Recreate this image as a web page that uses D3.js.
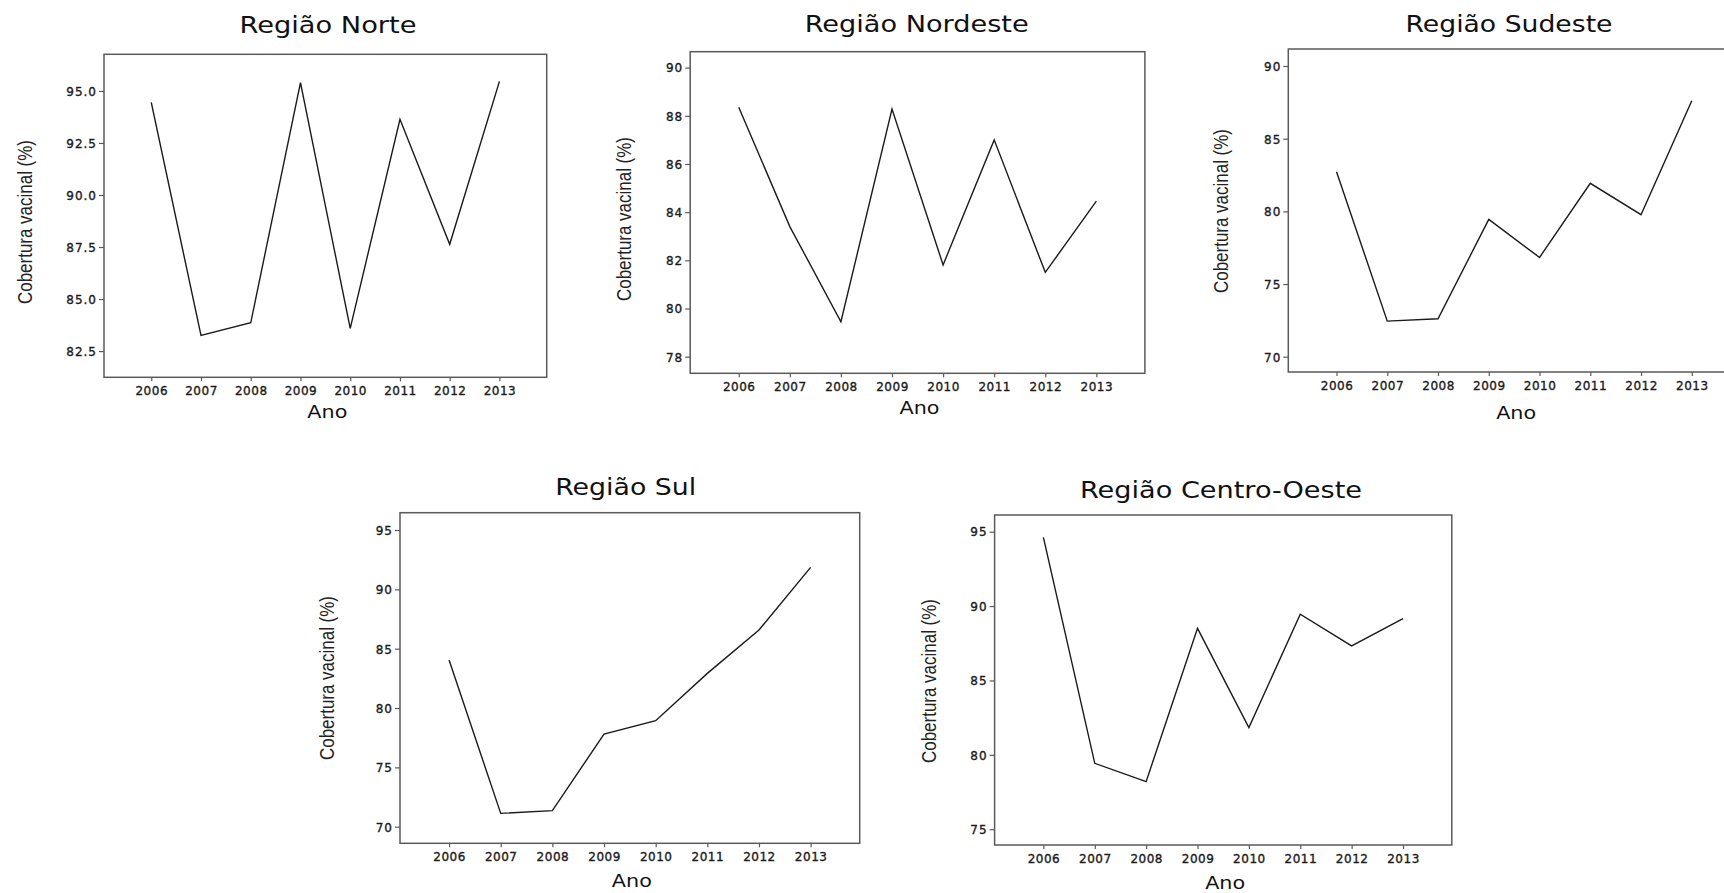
<!DOCTYPE html>
<html><head><meta charset="utf-8">
<script src="https://cdn.jsdelivr.net/npm/d3@7"></script>
<style>body{margin:0;background:#fff;overflow:hidden;} svg{display:block;}</style>
</head><body>
<svg id="c" width="1724" height="893"></svg>
<script>
// ---- data ----
const years = [2006, 2007, 2008, 2009, 2010, 2011, 2012, 2013];
const regionTitles = ["Região Norte", "Região Nordeste", "Região Sudeste", "Região Sul", "Região Centro-Oeste"];
const norte       = [94.45, 83.25, 83.86, 95.40, 83.59, 93.64, 87.63, 95.46];
const nordeste    = [88.35, 83.40, 79.45, 88.28, 81.81, 87.00, 81.50, 84.46];
const sudeste     = [82.73, 72.45, 72.61, 79.45, 76.83, 81.93, 79.77, 87.61];
const sul         = [84.04, 71.12, 71.35, 77.81, 78.93, 82.92, 86.57, 91.85];
const centroOeste = [94.62, 79.43, 78.20, 88.50, 81.83, 89.45, 87.32, 89.15];
const ticksNorte       = [82.5, 85, 87.5, 90, 92.5, 95];
const ticksNordeste    = [78, 80, 82, 84, 86, 88, 90];
const ticksSudeste     = [70, 75, 80, 85, 90];
const ticksSul         = [70, 75, 80, 85, 90, 95];
const ticksCentroOeste = [75, 80, 85, 90, 95];
const yAxisTitle = "Cobertura vacinal (%)";
const xAxisTitle = "Ano";

// ---- layout ----
const seriesList = [norte, nordeste, sudeste, sul, centroOeste];
const tickList = [ticksNorte, ticksNordeste, ticksSudeste, ticksSul, ticksCentroOeste];
const formats = [d3.format(".1f"), d3.format("d"), d3.format("d"), d3.format("d"), d3.format("d")];
const layout = [
  {x0:104,   x1:546.7,  y0:54.3,  y1:377.3, yd:[81.24, 96.76], tx:328,    ty:33.3,  tw:177, lx:24,    ly:222, anoY:417.7},
  {x0:690.2, x1:1144.9, y0:51.7,  y1:373.3, yd:[77.31, 90.66], tx:916.7,  ty:32,    tw:224, lx:623.7, ly:219, anoY:414},
  {x0:1288.3,x1:1740,   y0:49,    y1:372,   yd:[68.95, 91.17], tx:1509,   ty:31.5,  tw:207, lx:1220.6,ly:211, anoY:418.7},
  {x0:400,   x1:859.7,  y0:512.7, y1:843.3, yd:[68.60, 96.46], tx:625.7,  ty:495,   tw:141, lx:326.8, ly:678, anoY:886.7},
  {x0:994.6, x1:1451.8, y0:515,   y1:845,   yd:[73.94, 96.12], tx:1221,   ty:497.5, tw:282, lx:928.6, ly:681, anoY:888.7}
];

const svg = d3.select("#c");

layout.forEach((L, i) => {
  const g = svg.append("g");
  const x = d3.scaleLinear().domain([2005.05, 2013.95]).range([L.x0, L.x1]);
  const y = d3.scaleLinear().domain(L.yd).range([L.y1, L.y0]);

  // frame
  g.append("rect")
    .attr("x", L.x0).attr("y", L.y0)
    .attr("width", L.x1 - L.x0).attr("height", L.y1 - L.y0)
    .attr("fill", "none").attr("stroke", "#5a5a5a").attr("stroke-width", 1.5);

  // y axis
  const ya = g.append("g").attr("transform", `translate(${L.x0},0)`)
    .call(d3.axisLeft(y).tickValues(tickList[i]).tickFormat(formats[i]).tickSize(5).tickPadding(2));
  ya.select(".domain").remove();
  ya.selectAll(".tick line").attr("stroke", "#5a5a5a").attr("stroke-width", 1.2);
  ya.selectAll("text")
    .attr("font-family", "DejaVu Sans").attr("font-size", 12).attr("letter-spacing", "1px")
    .attr("fill", "#1a1a1a").attr("stroke", "#1a1a1a").attr("stroke-width", 0.35)
    .attr("dy", "0.36em");

  // x axis
  const xa = g.append("g").attr("transform", `translate(0,${L.y1})`)
    .call(d3.axisBottom(x).tickValues(years).tickFormat(d3.format("d")).tickSize(4).tickPadding(5));
  xa.select(".domain").remove();
  xa.selectAll(".tick line").attr("stroke", "#5a5a5a").attr("stroke-width", 1.2);
  xa.selectAll("text")
    .attr("font-family", "DejaVu Sans").attr("font-size", 12).attr("letter-spacing", "0.5px")
    .attr("fill", "#1a1a1a").attr("stroke", "#1a1a1a").attr("stroke-width", 0.35);

  // line
  const line = d3.line().x((d, j) => x(years[j])).y(d => y(d));
  g.append("path").datum(seriesList[i])
    .attr("d", line).attr("fill", "none")
    .attr("stroke", "#1a1a1a").attr("stroke-width", 1.4).attr("stroke-linejoin", "miter");

  // title
  g.append("text").attr("x", L.tx).attr("y", L.ty)
    .attr("text-anchor", "middle").attr("font-family", "DejaVu Sans").attr("font-size", 23)
    .attr("textLength", L.tw).attr("lengthAdjust", "spacingAndGlyphs")
    .attr("fill", "#111").text(regionTitles[i]);

  // x axis title
  g.append("text").attr("x", (x(2006) + x(2013)) / 2 + 2).attr("y", L.anoY)
    .attr("text-anchor", "middle").attr("font-family", "DejaVu Sans").attr("font-size", 17)
    .attr("textLength", 40).attr("lengthAdjust", "spacingAndGlyphs")
    .attr("fill", "#111").text(xAxisTitle);

  // y axis title
  g.append("text").attr("transform", `translate(${L.lx},${L.ly}) rotate(-90)`)
    .attr("text-anchor", "middle").attr("dominant-baseline", "central")
    .attr("font-family", "Liberation Sans Narrow, Liberation Sans, sans-serif").attr("font-size", 21)
    .attr("textLength", 164).attr("lengthAdjust", "spacingAndGlyphs")
    .attr("fill", "#222").text(yAxisTitle);
});
</script>
</body></html>
